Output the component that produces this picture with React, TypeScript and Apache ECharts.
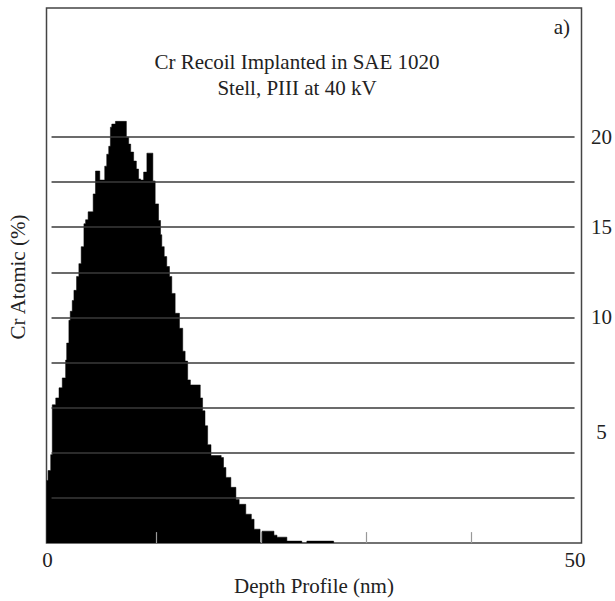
import React, { useEffect, useRef } from "react";
import * as echarts from "echarts";

// Step breakpoints (depth, nm) and Cr atomic % held from each breakpoint to the next
const depthNm = [
  -0.43, -0.28, -0.03, 0.12, 0.45, 0.76, 1.07, 1.39, 1.49, 1.7, 1.83, 2.02, 2.18, 2.43, 2.65,
  2.87, 3.13, 3.29, 3.53, 4.01, 4.23, 4.64, 5.11, 5.3, 5.49, 5.65, 5.78, 6.13, 7.17, 7.39,
  7.58, 7.86, 8.12, 8.33, 8.52, 8.81, 9.12, 9.69, 9.91, 10.23, 10.42, 10.54, 10.77, 11.01,
  11.27, 11.49, 11.81, 12.22, 12.53, 12.76, 13.0, 13.26, 14.2, 14.42, 14.65, 14.9, 15.22,
  16.19, 16.41, 16.64, 17.11, 17.59, 17.9, 18.53, 19.06, 19.32, 19.89, 20.08, 21.21, 21.5,
  22.44, 23.86, 24.34, 26.89,
];
const crAtomic = [
  0.97, 1.52, 2.4, 5.16, 5.54, 6.1, 6.65, 7.64, 8.58, 9.84, 10.34, 10.94, 11.5, 12.27, 12.98,
  13.92, 15.19, 15.41, 15.85, 16.84, 18.11, 17.61, 18.38, 19.04, 19.48, 20.54, 20.71, 20.86,
  19.98, 19.6, 19.16, 18.66, 18.22, 17.67, 17.61, 18.05, 19.1, 17.56, 16.29, 15.37, 14.58,
  13.92, 13.37, 12.82, 12.27, 11.33, 10.23, 9.4, 8.13, 7.58, 6.54, 6.26, 5.54, 4.83, 4.0,
  2.95, 2.35, 2.24, 1.69, 1.14, 0.59, -0.08, -0.35, -0.9, -1.18, -1.73, -2.5, -1.84, -2.06,
  -2.17, -2.39, -2.5, -2.39, -2.5,
];
const gridLevels = [0, 2.5, 5, 7.5, 10, 12.5, 15, 17.5, 20];
const yTickLabels = [5, 10, 15, 20];
const xTickValues = [10, 20, 30, 40];
const xLabelValues = [0, 50];

const titleText = "Cr Recoil Implanted in SAE 1020\nStell, PIII at 40 kV";
const yName = "Cr Atomic (%)";
const xName = "Depth Profile (nm)";
const panelTag = "a)";

const FONT = "'Liberation Serif', 'Times New Roman', serif";
const TXT = "#222";

export default function App() {
  const ref = useRef<HTMLDivElement>(null);
  useEffect(() => {
    document.body.style.margin = "0";
    const chart = echarts.init(ref.current!, null, { renderer: "svg" });
    chart.setOption({
      animation: false,
      backgroundColor: "#fff",
      title: {
        text: titleText,
        left: 297,
        top: 49,
        padding: 0,
        textAlign: "center",
        textStyle: { fontFamily: FONT, fontSize: 21, fontWeight: "normal", color: TXT, lineHeight: 26 },
      },
      grid: {
        left: 46.5,
        right: 31,
        top: 8,
        bottom: 55,
        show: true,
        borderColor: "#444",
        borderWidth: 1.5,
        backgroundColor: "transparent",
      },
      xAxis: {
        type: "value",
        min: -0.43,
        max: 50.47,
        z: 5,
        axisLine: { show: false, onZero: false },
        splitLine: { show: false },
        axisTick: {
          show: true,
          inside: true,
          length: 11,
          customValues: xTickValues,
          lineStyle: { color: "#999", width: 1.2 },
        },
        axisLabel: {
          customValues: xLabelValues,
          margin: 6,
          fontFamily: FONT,
          fontSize: 21,
          color: TXT,
          formatter: (v: number) => (v === 0 ? "{a|0}" : "{b|" + v + "}"),
          rich: {
            a: { fontFamily: FONT, fontSize: 21, color: TXT, padding: [0, 7, 0, 0] },
            b: { fontFamily: FONT, fontSize: 21, color: TXT, padding: [0, 3, 0, 0] },
          },
        },
        name: xName,
        nameLocation: "middle",
        nameGap: 30,
        nameTextStyle: { fontFamily: FONT, fontSize: 21, color: TXT },
      },
      yAxis: {
        type: "value",
        position: "right",
        min: -2.5,
        max: 27.14,
        axisLine: { show: false, onZero: false },
        axisTick: { show: false },
        splitLine: { show: false },
        axisLabel: {
          customValues: yTickLabels,
          margin: 20,
          align: "center",
          fontFamily: FONT,
          fontSize: 21,
          color: TXT,
          formatter: (v: number) => (v === 5 ? "{f|5}" : "{n|" + v + "}"),
          rich: {
            f: { fontFamily: FONT, fontSize: 21, color: TXT, padding: [48, 0, 0, 0] },
            n: { fontFamily: FONT, fontSize: 21, color: TXT },
          },
        },
      },
      graphic: [
        {
          type: "text",
          x: 570,
          y: 27,
          style: { text: panelTag, font: `21px ${FONT}`, fill: TXT, align: "right", verticalAlign: "middle" },
        },
        {
          type: "text",
          x: 18,
          y: 277,
          rotation: Math.PI / 2,
          style: { text: yName, font: `21px ${FONT}`, fill: TXT, align: "center", verticalAlign: "middle" },
        },
      ],
      series: [
        {
          type: "line",
          step: "end",
          symbol: "none",
          showSymbol: false,
          data: depthNm.map((d, i) => [d, crAtomic[i]]),
          lineStyle: { color: "#000", width: 0.5 },
          areaStyle: { color: "#000", opacity: 1, origin: "start" },
          markLine: {
            silent: true,
            symbol: ["none", "none"],
            label: { show: false },
            lineStyle: { color: "#3a3a3a", width: 1.5, type: "solid" },
            data: gridLevels.map((v) => [{ coord: [0.05, v] }, { coord: [49.81, v] }]),
          },
        },
      ],
    });
    return () => chart.dispose();
  }, []);
  return <div ref={ref} style={{ position: "fixed", left: 0, top: 0, width: 615, height: 601 }} />;
}
